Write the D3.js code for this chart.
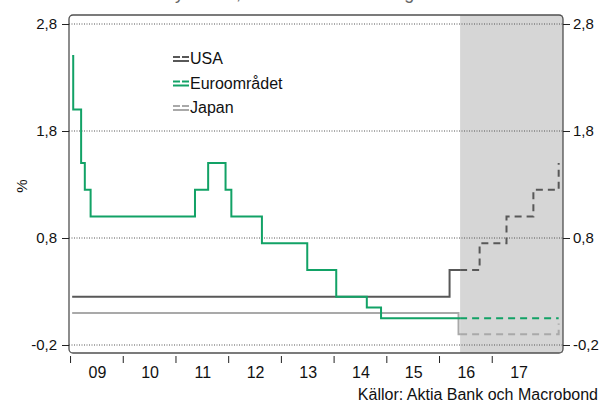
<!DOCTYPE html>
<html><head><meta charset="utf-8">
<script src="https://cdn.jsdelivr.net/npm/d3@7"></script>
<style>
html,body{margin:0;padding:0;background:#fff;}
svg{display:block;font-family:"Liberation Sans",Arial,sans-serif;}
</style></head>
<body>
<svg id="chart" width="601" height="403"></svg>
<script>
// ---- data (decimal year, rate %) ----
const yearLabels = ["09","10","11","12","13","14","15","16","17"];
const yTicks = [2.8, 1.8, 0.8, -0.2];
const forecastStart = 2016.40;

const usaHist = [[2009.04,0.25],[2016.20,0.5],[2016.40,0.5]];
const usaFcst = [[2016.40,0.5],[2016.77,0.75],[2017.28,1.0],[2017.79,1.25],[2018.27,1.5],[2018.27,1.5]];

const euroHist = [[2009.04,2.5],[2009.06,2.0],[2009.21,1.5],[2009.28,1.25],[2009.39,1.0],
  [2011.37,1.25],[2011.62,1.5],[2011.95,1.25],[2012.06,1.0],[2012.64,0.75],[2013.50,0.5],
  [2014.05,0.25],[2014.63,0.15],[2014.90,0.05],[2016.40,0.05]];
const euroFcst = [[2016.40,0.05],[2018.27,0.05]];

const japanHist = [[2009.04,0.1],[2016.37,-0.1],[2016.40,-0.1]];
const japanFcst = [[2016.40,-0.1],[2018.27,0.0],[2018.27,0.0]];

const seriesNames = ["USA","Euroområdet","Japan"];
const seriesColors = ["#585858","#12a266","#a9a9a9"];

// ---- layout ----
const svg = d3.select("#chart");
const L = 69, R = 563, T = 15, B = 353;
const x = d3.scaleLinear().domain([2008.98, 2018.352]).range([L, R]);
const y = d3.scaleLinear().domain([-0.2, 2.8]).range([345, 24]);

// title (cut off at the top edge in the original)
svg.append("text").attr("x", 14).attr("y", -1).attr("font-size", 18).attr("fill", "#666")
  .text("Centralbankernas styrräntor, marknadsförväntningar");

// shading for forecast
svg.append("rect").attr("x", x(forecastStart)).attr("y", T)
  .attr("width", R - x(forecastStart)).attr("height", B - T).attr("fill", "#d6d6d6");

// grid
svg.append("g").selectAll("line").data(yTicks).join("line")
  .attr("x1", L).attr("x2", R).attr("y1", d => y(d)).attr("y2", d => y(d))
  .attr("stroke", "#555").attr("stroke-width", 1).attr("stroke-dasharray", "1,1.5");

// frame
svg.append("rect").attr("x", L).attr("y", T).attr("width", R - L).attr("height", B - T)
  .attr("rx", 4).attr("ry", 4).attr("fill", "none").attr("stroke", "#505050").attr("stroke-width", 1.3);

// y axes
const fmt = d => d3.format(".1f")(d).replace(".", ",").replace("−", "-");
const yl = svg.append("g").attr("transform", `translate(${L},0)`)
  .call(d3.axisLeft(y).tickValues(yTicks).tickSize(7).tickPadding(5).tickFormat(fmt));
const yr = svg.append("g").attr("transform", `translate(${R},0)`)
  .call(d3.axisRight(y).tickValues(yTicks).tickSize(7).tickPadding(3).tickFormat(fmt));
[yl, yr].forEach(g => {
  g.select(".domain").remove();
  g.selectAll("line").attr("stroke", "#222");
  g.selectAll("text").attr("font-size", 15).attr("fill", "#111")
    .attr("font-family", "Liberation Sans, Arial, sans-serif");
});

// x axis
const yearTicks = d3.range(2009, 2018);
const xa = svg.append("g").attr("transform", `translate(0,356)`)
  .call(d3.axisBottom(x).tickValues(yearTicks).tickSize(7).tickFormat(""));
xa.select(".domain").remove();
xa.selectAll("line").attr("stroke", "#222");
svg.append("g").selectAll("text").data(yearLabels).join("text")
  .attr("x", (d, i) => x(2009.5 + i) + 1).attr("y", 378).attr("text-anchor", "middle")
  .attr("font-size", 16).attr("fill", "#111").text(d => d);

// % label
svg.append("text").attr("transform", "translate(27,186) rotate(-90)")
  .attr("text-anchor", "middle").attr("font-size", 15).attr("fill", "#111").text("%");

// lines
const line = d3.line().x(d => x(d[0])).y(d => y(d[1])).curve(d3.curveStepAfter);
const hist = [usaHist, euroHist, japanHist];
const fcst = [usaFcst, euroFcst, japanFcst];
const order = [2, 0, 1];
order.forEach(i => {
  svg.append("path").datum(hist[i]).attr("d", line).attr("fill", "none")
    .attr("stroke", seriesColors[i]).attr("stroke-width", 2);
  svg.append("path").datum(fcst[i]).attr("d", line).attr("fill", "none")
    .attr("stroke", seriesColors[i]).attr("stroke-width", 2).attr("stroke-dasharray", "7,5");
});

// legend
const lg = svg.append("g").attr("transform", "translate(173,58)");
seriesNames.forEach((n, i) => {
  const g = lg.append("g").attr("transform", `translate(0,${i * 24.5})`);
  g.append("line").attr("x1", 0).attr("x2", 7).attr("y1", -1).attr("y2", -1)
    .attr("stroke", seriesColors[i]).attr("stroke-width", 2);
  g.append("line").attr("x1", 9).attr("x2", 16).attr("y1", -1).attr("y2", -1)
    .attr("stroke", seriesColors[i]).attr("stroke-width", 2);
  g.append("line").attr("x1", 0).attr("x2", 16).attr("y1", 3).attr("y2", 3)
    .attr("stroke", seriesColors[i]).attr("stroke-width", 2);
  g.append("text").attr("x", 17).attr("y", 6).attr("font-size", 16).attr("fill", "#111").text(n);
});

// source
svg.append("text").attr("x", 598).attr("y", 400).attr("text-anchor", "end")
  .attr("font-size", 16).attr("fill", "#111").text("Källor: Aktia Bank och Macrobond");
</script>
</body></html>
